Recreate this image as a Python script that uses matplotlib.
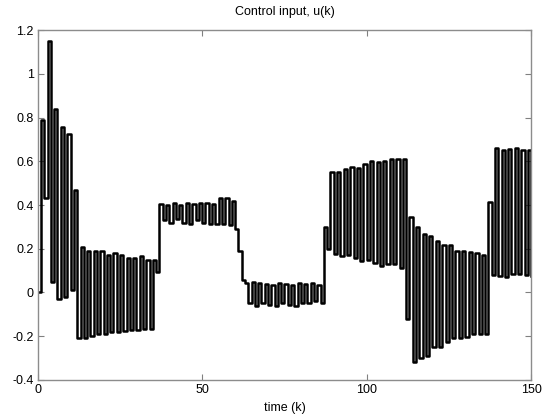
import numpy as np
import matplotlib
matplotlib.use('Agg')
import matplotlib.pyplot as plt

# control input values u(k), k = 0..150
u_start = [0, 0.79, 0.43, 1.15, 0.05, 0.84, -0.03, 0.755, -0.02, 0.725, 0.01, 0.47, -0.21]
u_low1 = [0.21, -0.21, 0.19, -0.20, 0.19, -0.19, 0.19, -0.19, 0.17, -0.18, 0.18, -0.18,
          0.17, -0.175, 0.16, -0.17, 0.16, -0.17, 0.165, -0.165, 0.15, -0.165, 0.15, 0.095]
u_mid1 = [0.405, 0.33, 0.40, 0.32, 0.41, 0.335, 0.40, 0.32, 0.41, 0.315, 0.405, 0.33,
          0.41, 0.32, 0.41, 0.315, 0.405, 0.315, 0.43, 0.315, 0.43, 0.31, 0.42, 0.29, 0.19, 0.058]
u_zero = [0.045, -0.05, 0.05, -0.06, 0.045, -0.05, 0.04, -0.055, 0.035, -0.06, 0.045, -0.05,
          0.04, -0.055, 0.035, -0.06, 0.045, -0.05, 0.04, -0.05, 0.042, -0.037, 0.032, -0.05]
u_high = [0.30, 0.20, 0.55, 0.176, 0.55, 0.169, 0.565, 0.17, 0.575, 0.16, 0.57, 0.146,
          0.587, 0.15, 0.60, 0.134, 0.595, 0.123, 0.603, 0.13, 0.61, 0.13, 0.61, 0.113, 0.61]
u_low2 = [-0.12, 0.344, -0.32, 0.30, -0.30, 0.268, -0.29, 0.26, -0.25, 0.237, -0.247, 0.219,
          -0.227, 0.215, -0.207, 0.19, -0.21, 0.19, -0.204, 0.185, -0.19, 0.18, -0.19, 0.17, -0.19]
u_end = [0.415, 0.078, 0.663, 0.075, 0.65, 0.07, 0.655, 0.085, 0.66, 0.085, 0.65, 0.08, 0.65, 0.075]

u = np.array(u_start + u_low1 + u_mid1 + u_zero + u_high + u_low2 + u_end)
k = np.arange(len(u))

xticks = [0, 50, 100, 150]
yticks = [-0.4, -0.2, 0, 0.2, 0.4, 0.6, 0.8, 1, 1.2]
ytick_labels = ['-0.4', '-0.2', '0', '0.2', '0.4', '0.6', '0.8', '1', '1.2']

plt.rcParams['font.family'] = ['Liberation Sans', 'DejaVu Sans']

fig = plt.figure(figsize=(5.47, 4.18), dpi=100)
ax = fig.add_axes([0.069, 0.091, 0.902, 0.837])

ax.step(k, u, where='post', color='black', linewidth=1.8)

ax.set_xlim(0, 150)
ax.set_ylim(-0.4, 1.2)
ax.set_xticks(xticks)
ax.set_yticks(yticks)
ax.set_yticklabels(ytick_labels)
ax.tick_params(direction='in', top=True, right=True, length=4, width=0.8,
               color='0.5', labelsize=9, pad=3)
for s in ax.spines.values():
    s.set_color('0.55')
    s.set_linewidth(1.0)

ax.set_title('Control input, u(k)', fontsize=9, pad=11)
ax.set_xlabel('time (k)', fontsize=9, labelpad=4)

fig.savefig('out.png', dpi=100)
